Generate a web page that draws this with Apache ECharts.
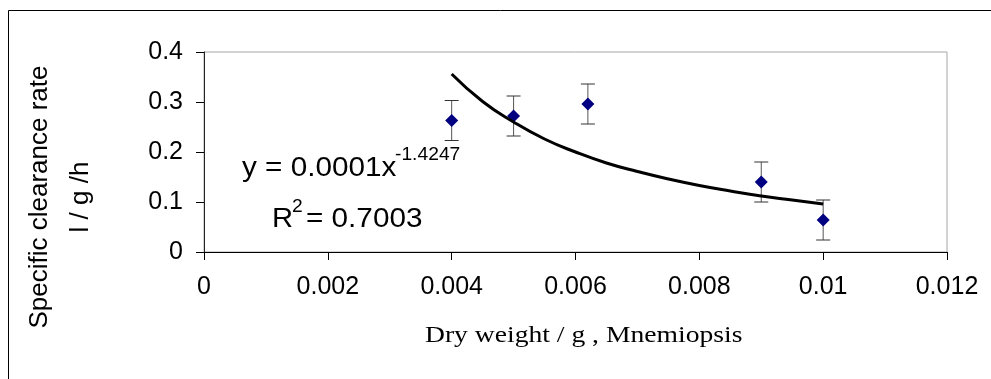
<!DOCTYPE html>
<html>
<head>
<meta charset="utf-8">
<style>
  html, body { margin: 0; padding: 0; background: #fff; }
  #chart { width: 991px; height: 379px; }
</style>
<script src="https://cdn.jsdelivr.net/npm/echarts@6/dist/echarts.min.js"></script>
</head>
<body>
<div id="chart"></div>
<script>
// Measured clearance rates (mean and error) against dry weight
const dryWeight = [0.004, 0.005, 0.0062, 0.009, 0.01];
const clearanceRate = [0.263, 0.272, 0.296, 0.14, 0.064];
const rateError = [0.04, 0.04, 0.04, 0.04, 0.04];

// Power trendline, sampled along its drawn path
const trendX = [0.004, 0.0045, 0.005, 0.0055, 0.006, 0.0065, 0.007, 0.0075, 0.008, 0.0085, 0.009, 0.0095, 0.01];
const trendY = [0.356, 0.301, 0.26, 0.226, 0.2, 0.178, 0.161, 0.146, 0.133, 0.122, 0.112, 0.104, 0.096];

const xTicks = { min: 0, max: 0.012, interval: 0.002 };
const yTicks = { min: 0, max: 0.4, interval: 0.1 };

const equationText = 'y = 0.0001x';
const equationPower = '-1.4247';
const rSquaredText = '= 0.7003';
const xTitle = 'Dry weight / g , Mnemiopsis';
const yTitle = 'Specific clearance rate\nl / g /h';

const SANS = '"Liberation Sans", Arial, sans-serif';
const SERIF = '"Liberation Serif", "Times New Roman", serif';

const points = dryWeight.map((x, i) => [x, clearanceRate[i]]);
const errorData = dryWeight.map((x, i) => [x, clearanceRate[i], rateError[i]]);
const trendData = trendX.map((x, i) => [x, trendY[i]]);

const chart = echarts.init(document.getElementById('chart'), null, { renderer: 'canvas' });

chart.setOption({
  animation: false,
  backgroundColor: '#fff',
  grid: {
    left: 204, top: 52, width: 743, height: 200,
    containLabel: false,
    outerBoundsMode: 'none',
    show: true, borderColor: '#a6a6a6', borderWidth: 1, backgroundColor: 'transparent'
  },
  xAxis: {
    type: 'value',
    min: xTicks.min, max: xTicks.max, interval: xTicks.interval,
    axisLine: { show: true, onZero: false, lineStyle: { color: '#000', width: 1 } },
    axisTick: { show: true, inside: false, length: 8, lineStyle: { color: '#000' } },
    splitLine: { show: false },
    axisLabel: { color: '#000', fontFamily: SANS, fontSize: 25, margin: 23 }
  },
  yAxis: {
    type: 'value',
    min: yTicks.min, max: yTicks.max, interval: yTicks.interval,
    name: yTitle,
    nameLocation: 'middle',
    nameRotate: 90,
    nameGap: 103,
    nameMoveOverlap: false,
    nameTextStyle: {
      color: '#000', fontFamily: SANS, fontSize: 26, lineHeight: 41,
      padding: [0, 90, 0, 0]
    },
    axisLine: { show: true, onZero: false, lineStyle: { color: '#222', width: 1 } },
    axisTick: { show: true, inside: false, length: 8, lineStyle: { color: '#000' } },
    splitLine: { show: false },
    axisLabel: { color: '#000', fontFamily: SANS, fontSize: 25, margin: 21 }
  },
  graphic: [
    {
      type: 'rect', silent: true, z: -10,
      shape: { x: 8.5, y: 10.5, width: 1000, height: 400 },
      style: { fill: 'none', stroke: '#000', lineWidth: 1 }
    },
    {
      type: 'text', x: 242, y: 169, scaleX: 1.1,
      style: { text: equationText, fill: '#000', font: '27px ' + SANS, align: 'left', verticalAlign: 'middle' }
    },
    {
      type: 'text', x: 395, y: 155.5, scaleX: 1.1,
      style: { text: equationPower, fill: '#000', font: '17.5px ' + SANS, align: 'left', verticalAlign: 'middle' }
    },
    {
      type: 'text', x: 272, y: 220, scaleX: 1.08,
      style: { text: 'R', fill: '#000', font: '27px ' + SANS, align: 'left', verticalAlign: 'middle' }
    },
    {
      type: 'text', x: 292, y: 207, scaleX: 1.1,
      style: { text: '2', fill: '#000', font: '17.5px ' + SANS, align: 'left', verticalAlign: 'middle' }
    },
    {
      type: 'text', x: 306, y: 220, scaleX: 1.1,
      style: { text: rSquaredText, fill: '#000', font: '27px ' + SANS, align: 'left', verticalAlign: 'middle' }
    },
    {
      type: 'text', x: 425, y: 336, scaleX: 1.2,
      style: { text: xTitle, fill: '#000', font: '23px ' + SERIF, align: 'left', verticalAlign: 'middle' }
    }
  ],
  series: [
    {
      type: 'custom',
      name: 'error',
      z: 2,
      data: errorData,
      renderItem: function (params, api) {
        const x = api.value(0), y = api.value(1), e = api.value(2);
        const top = api.coord([x, y + e]);
        const bot = api.coord([x, y - e]);
        const half = 7;
        const style = { stroke: '#333', lineWidth: 1 };
        return {
          type: 'group',
          children: [
            { type: 'line', shape: { x1: top[0], y1: top[1], x2: bot[0], y2: bot[1] }, style: { stroke: '#555', lineWidth: 1 } },
            { type: 'line', shape: { x1: top[0] - half, y1: top[1], x2: top[0] + half, y2: top[1] }, style: style },
            { type: 'line', shape: { x1: bot[0] - half, y1: bot[1], x2: bot[0] + half, y2: bot[1] }, style: style }
          ]
        };
      }
    },
    {
      type: 'scatter',
      name: 'rate',
      z: 3,
      data: points,
      symbol: 'diamond',
      symbolSize: 13,
      itemStyle: { color: '#000080', opacity: 1 }
    },
    {
      type: 'line',
      name: 'trend',
      z: 4,
      data: trendData,
      smooth: true,
      showSymbol: false,
      symbol: 'none',
      lineStyle: { color: '#000', width: 3 }
    }
  ]
});
</script>
</body>
</html>
